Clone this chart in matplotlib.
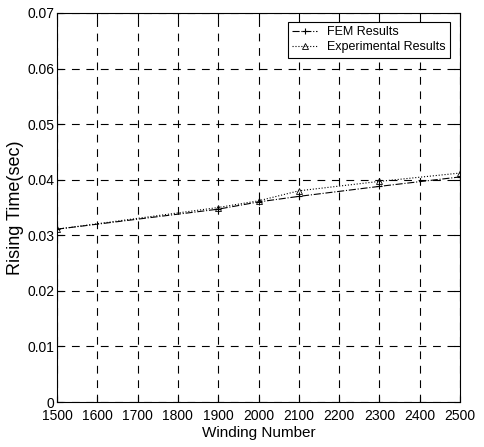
import matplotlib
matplotlib.use("Agg")
import matplotlib.pyplot as plt
import matplotlib.ticker as ticker

plt.rcParams["font.family"] = ["Liberation Sans", "DejaVu Sans"]

xWinding = [1500, 1900, 2000, 2100, 2300, 2500]
yFEM = [0.0311, 0.0347, 0.0360, 0.0370, 0.0388, 0.0405]
yExp = [0.0311, 0.0350, 0.0362, 0.0380, 0.0397, 0.0412]

fig = plt.figure(figsize=(4.84, 4.47), dpi=100)
ax = fig.add_axes([57/484, 1-402/447, (460-57)/484, (402-13)/447])

ax.plot(xWinding, yFEM, c='k', lw=0.8, ls='-.', marker='+', markersize=5,
        mew=0.8, label='FEM Results')
ax.plot(xWinding, yExp, c='k', lw=0.8, ls=':', marker='^', markersize=5,
        mfc='none', mew=0.6, label='Experimental Results')

ax.set_xlim(1500, 2500)
ax.set_ylim(0, 0.07)
ax.xaxis.set_major_locator(ticker.MultipleLocator(100))
ax.yaxis.set_major_locator(ticker.MultipleLocator(0.01))
ax.yaxis.set_major_formatter(lambda v, pos: "0" if v == 0 else "{:.2f}".format(v))
ax.grid(True, c='k', ls=(0, (7, 6)), lw=0.8)
ax.tick_params(direction='in', top=True, right=True, labelsize=10, length=4, pad=2)
ax.tick_params(axis='x', pad=5)
for s in ax.spines.values():
    s.set_linewidth(0.8)

ax.set_xlabel("Winding Number", fontsize=11, labelpad=2)
ax.set_ylabel("Rising Time(sec)", fontsize=13, labelpad=2)

leg = ax.legend(loc='upper right', fontsize=9, fancybox=False, framealpha=1,
                edgecolor='k', handlelength=2.0, labelspacing=0.25,
                borderpad=0.35, borderaxespad=0.4, bbox_to_anchor=(0.988, 0.99))
leg.get_frame().set_linewidth(0.8)

fig.savefig("out.png", dpi=100)
